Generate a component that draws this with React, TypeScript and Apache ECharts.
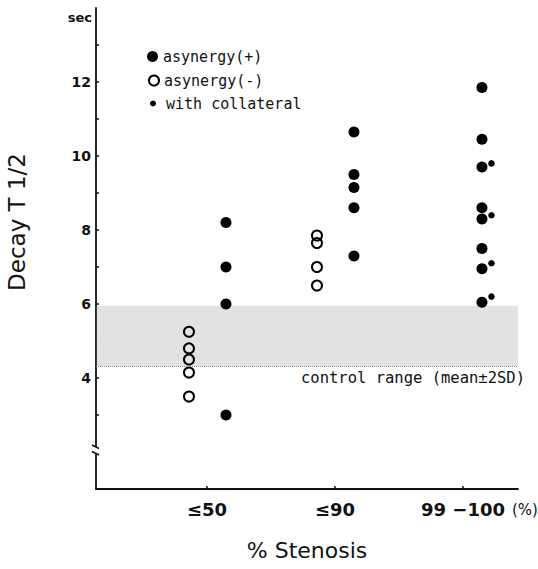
import React, { useEffect, useRef } from "react";
import * as echarts from "echarts";

const categories = ["≤50", "≤90", "99 −100"];
const filledValues = [
  [8.2, 7.0, 6.0, 3.0],
  [10.65, 9.5, 9.15, 8.6, 7.3],
  [11.85, 10.45, 9.7, 8.6, 8.3, 7.5, 6.95, 6.05],
];
const openValues = [
  [5.25, 4.8, 4.5, 4.15, 3.5],
  [7.85, 7.65, 7.0, 6.5],
  [],
];
const collateralCategory = 3;
const collateralValues = [9.8, 8.4, 7.1, 6.2];
const controlRange = [4.32, 5.95];
const yLabelValues = [4, 6, 8, 10, 12];
const yTickValues = [3, 4, 5, 6, 7, 8, 9, 10, 11, 12, 13];

const INK = "#111";

export default function App() {
  const ref = useRef<HTMLDivElement>(null);
  useEffect(() => {
    if (!ref.current) return;
    const chart = echarts.init(ref.current, null, { renderer: "svg" });
    const toPoints = (groups: number[][]) =>
      groups.flatMap((vals, i) => vals.map((v) => [i + 1, v]));
    const option: any = {
      animation: false,
      backgroundColor: "#fff",
      grid: { left: 96, top: 8, width: 422, height: 481, containLabel: false, outerBoundsMode: "none" },
      legend: [
        {
          data: ["asynergy(+)"], left: 147, top: 49, padding: 0, itemWidth: 11, itemHeight: 11,
          icon: "circle", selectedMode: false,
          textStyle: { fontFamily: "DejaVu Sans Mono", fontSize: 15, color: INK },
        },
        {
          data: ["asynergy(-)"], left: 148, top: 73, padding: 0, itemWidth: 10, itemHeight: 10,
          icon: "circle", selectedMode: false,
          textStyle: { fontFamily: "DejaVu Sans Mono", fontSize: 15, color: INK },
        },
        {
          data: ["with collateral"], left: 150, top: 96, padding: 0, itemWidth: 6, itemHeight: 6,
          icon: "circle", selectedMode: false, itemGap: 0,
          textStyle: { fontFamily: "DejaVu Sans Mono", fontSize: 15, color: INK, padding: [0, 0, 0, 5] },
        },
      ],
      xAxis: {
        type: "value",
        min: 0.133,
        max: 3.43,
        name: "% Stenosis",
        nameLocation: "middle",
        nameGap: 50,
        nameTextStyle: { fontFamily: "DejaVu Sans", fontSize: 22, color: INK },
        axisLine: { show: true, lineStyle: { color: INK, width: 1.8 } },
        axisTick: { show: true, inside: true, length: 3, customValues: [1, 2, 3], lineStyle: { color: INK, width: 1.5 } },
        axisLabel: {
          customValues: [1, 2, 3],
          formatter: (v: number) => categories[Math.round(v) - 1] ?? "",
          margin: 11,
          fontFamily: "DejaVu Sans", fontWeight: "bold", fontSize: 18, color: INK,
        },
        splitLine: { show: false },
      },
      yAxis: {
        type: "value",
        min: 1,
        max: 14,
        axisLine: { show: true, lineStyle: { color: INK, width: 1.8 } },
        axisTick: { show: true, inside: true, length: 3, customValues: yTickValues, lineStyle: { color: INK, width: 1.5 } },
        axisLabel: {
          customValues: yLabelValues,
          margin: 5,
          fontFamily: "DejaVu Sans", fontWeight: "bold", fontSize: 14, color: INK,
        },
        splitLine: { show: false },
      },
      series: [
        {
          name: "control range",
          type: "scatter",
          data: [],
          silent: true,
          markArea: {
            silent: true,
            itemStyle: { color: "#e2e2e2" },
            data: [[{ xAxis: 0.14, yAxis: controlRange[1] }, { xAxis: 3.43, yAxis: controlRange[0] }]],
          },
          markLine: {
            silent: true,
            symbol: "none",
            lineStyle: { color: "#888", type: "dotted", width: 1 },
            label: {
              show: true,
              position: "insideEndBottom",
              formatter: "control range (mean±2SD)",
              fontFamily: "DejaVu Sans Mono", fontSize: 15.5, color: INK,
              distance: [-7, 4],
            },
            data: [{ yAxis: controlRange[0] }],
          },
        },
        {
          name: "asynergy(+)",
          type: "scatter",
          symbol: "circle",
          symbolSize: 11,
          symbolOffset: [19, 0],
          itemStyle: { color: "#000", opacity: 1 },
          data: toPoints(filledValues),
          z: 3,
        },
        {
          name: "asynergy(-)",
          type: "scatter",
          symbol: "circle",
          symbolSize: 10,
          symbolOffset: [-18, 0],
          itemStyle: { color: "rgba(0,0,0,0)", borderColor: "#000", borderWidth: 2, opacity: 1 },
          data: toPoints(openValues),
          z: 3,
        },
        {
          name: "with collateral",
          type: "scatter",
          symbol: "circle",
          symbolSize: 6.5,
          symbolOffset: [28.5, 0],
          itemStyle: { color: "#000", opacity: 1 },
          data: collateralValues.map((v) => [collateralCategory, v]),
          z: 3,
        },
      ],
      graphic: [
        {
          type: "text", x: 92, y: 17, z: 10,
          style: { text: "sec", align: "right", verticalAlign: "middle", fontFamily: "DejaVu Sans", fontWeight: "bold", fontSize: 13, fill: INK },
        },
        {
          type: "text", x: 17, y: 222, rotation: Math.PI / 2, z: 10,
          style: { text: "Decay T 1/2", align: "center", verticalAlign: "middle", fontFamily: "DejaVu Sans", fontSize: 23, fill: INK },
        },
        {
          type: "text", x: 512, y: 510, z: 10,
          style: { text: "(%)", align: "left", verticalAlign: "middle", fontFamily: "DejaVu Sans", fontSize: 15, fill: INK },
        },
        {
          type: "rect", z: 10, shape: { x: 90, y: 447, width: 12, height: 6 }, style: { fill: "#fff" },
        },
        {
          type: "line", z: 11, shape: { x1: 92, y1: 445, x2: 99, y2: 448.5 }, style: { stroke: INK, lineWidth: 1.6 },
        },
        {
          type: "line", z: 11, shape: { x1: 92, y1: 451.5, x2: 99, y2: 455 }, style: { stroke: INK, lineWidth: 1.6 },
        },
      ],
    };
    chart.setOption(option);
    return () => chart.dispose();
  }, []);
  return (
    <div
      ref={ref}
      style={{ position: "fixed", left: 0, top: 0, width: 538, height: 569, background: "#fff" }}
    />
  );
}
